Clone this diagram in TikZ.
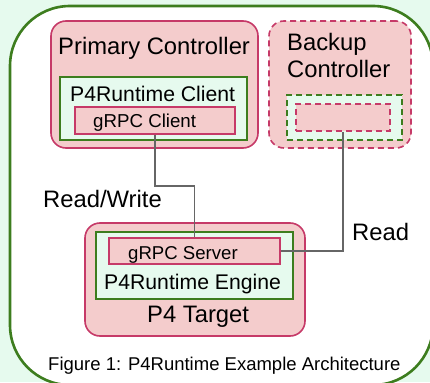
\documentclass[tikz,border=0pt]{standalone}
\usepackage{fontspec}
\setmainfont{Liberation Sans}
\definecolor{pinkfill}{HTML}{F4CCCC}
\definecolor{crimson}{HTML}{C63A68}
\definecolor{leafgreen}{HTML}{3D7D1E}
\definecolor{mintfill}{HTML}{E6FAEE}
\definecolor{wiregray}{HTML}{666666}
\tikzset{
  pinkbox/.style={draw=crimson, fill=pinkfill, line width=1.6pt, inner sep=0pt},
  greenbox/.style={draw=leafgreen, fill=mintfill, line width=1.6pt, inner sep=0pt},
  dashbox/.style={dash pattern=on 6pt off 4pt},
  wire/.style={draw=wiregray, line width=1.5pt},
  lbl/.style={inner sep=0pt, anchor=base west},
}
\newcommand{\fs}[1]{\fontsize{#1}{#1}\selectfont}
\begin{document}
\begin{tikzpicture}[x=1pt, y=-1pt]
\useasboundingbox[fill=mintfill] (0,0) rectangle (430,382);
% outer frame
\draw[leafgreen, line width=2.6pt, fill=white, rounded corners=60pt] (10,6) rectangle (433,385);

% primary controller
\node[pinkbox, rounded corners=15pt, minimum width=207pt, minimum height=127pt] (primary) at (154.5,84.5) {};
\node[lbl] (primtitle) at (58,55) {\fs{23.8}Primary Controller};
\node[greenbox, minimum width=187pt, minimum height=63pt] (client) at (153.5,108.5) {};
\node[lbl] (clienttxt) at (70,102) {\fs{21.2}P4Runtime Client};
\node[pinkbox, minimum width=160pt, minimum height=27pt] (gclient) at (155,120.5) {};
\node[lbl] (gclienttxt) at (93,128) {\fs{18.7}gRPC Client};

% backup controller
\node[pinkbox, dashbox, rounded corners=15pt, minimum width=142pt, minimum height=127pt] (backup) at (340,84.5) {};
\node[lbl] (backtitle) at (287,51) {\fs{23.8}Backup};
\node[lbl] (backtitle2) at (287,78) {\fs{23.8}Controller};
\node[greenbox, dashbox, minimum width=115pt, minimum height=45pt] (bclient) at (344.5,117.5) {};
\node[pinkbox, dashbox, minimum width=94pt, minimum height=27pt] (bgclient) at (343,117.5) {};

% p4 target
\node[pinkbox, rounded corners=15pt, minimum width=220pt, minimum height=113pt] (target) at (195,279.5) {};
\node[greenbox, minimum width=197pt, minimum height=67pt] (engine) at (194.5,265.5) {};
\node[pinkbox, minimum width=171pt, minimum height=26pt] (gserver) at (194.5,251) {};
\node[lbl] (gservertxt) at (128,259) {\fs{18.6}gRPC Server};
\node[lbl] (enginetxt) at (104,289) {\fs{21.2}P4Runtime Engine};
\node[lbl] (targettxt) at (147,322) {\fs{23.8}P4 Target};

% connections
\draw[wire] (gclient.south) -- ++(0,51) -| (gserver.north);
\draw[wire] (bgclient.south) |- (gserver.east);
\node[lbl] (rwlbl) at (43,207) {\fs{23.8}Read/Write};
\node[lbl] (rlbl) at (352,240) {\fs{23.8}Read};

\node[lbl] (caption) at (48,370) {\fs{18.5}Figure 1: P4Runtime Example Architecture};
\end{tikzpicture}
\end{document}
